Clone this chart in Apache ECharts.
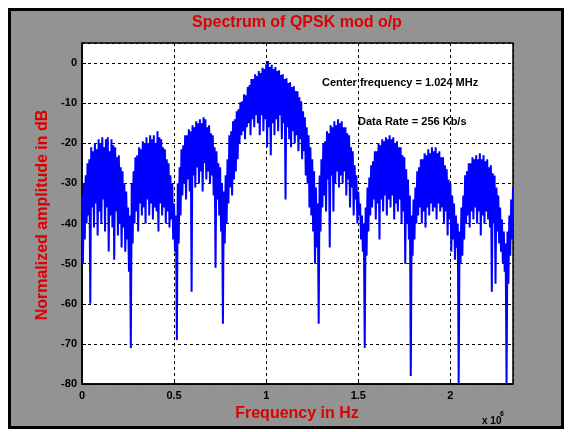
<!DOCTYPE html>
<html>
<head>
<meta charset="utf-8">
<script src="https://cdn.jsdelivr.net/npm/echarts@6/dist/echarts.min.js"></script>
<style>
  html, body { margin: 0; padding: 0; background: #ffffff; }
  #frame { position: absolute; left: 8px; top: 8px; width: 550px; height: 415px; border: 3px solid #000; background: #939393; }
  #chart { position: absolute; left: 0; top: 0; width: 569px; height: 432px; }
</style>
</head>
<body>
<div id="frame"></div>
<div id="chart"></div>
<script>
// Frequency sampling grid (x 10^6 Hz)
const freqStart = 0;
const freqStep = 0.01;

// Upper (peak) amplitude samples in dB
const peakDb = [
  -33,-30,-28,-25,-24,-21,-22,-20,-21.5,-19,-20,-18.5,-21,-19,-18.5,-22,-19,-20.5,-21,-23.5,-23,-26,-27,-30,-32,-36,-38,
  -30,-27,-23.5,-23,-21,-21.5,-19.5,-20,-18.5,-20,-18,-19,-18,-20,-17,-18.5,-19,-21,-21.5,-24,-25,-28,-30,-35,-38,
  -30,-26,-21.5,-20.5,-18,-18,-16.5,-17,-15.5,-16,-14.5,-15,-14,-15,-13.5,-14,-16,-15.5,-17.5,-18,-21,-22,-25,-26,-30,
  -32,-28,-24,-18,-17,-14.5,-14,-12,-11.5,-9.8,
  -9.5,-7.8,-8,-6,-5.5,-4,-4,-2.8,-3.2,-2,
  -2.5,-1.2,-1.5,-0.3,0.5,-1,-0.4,-1.5,-1,-2,
  -1.8,-3,-2.8,-4,-3.8,-5,-4.8,-6,-5.8,-7,
  -7,-8.5,-9.5,-12,-13.5,-16,-18,-21,-24,-27,
  -31,-35,
  -28,-24,-20,-19.5,-17,-17.5,-15.5,-16,-14.5,-15.5,-14,-15,-14.5,-16,-16,-17.5,-18,-21,-22,-25.5,-28,-32,-35,-38,-40,
  -36,-31,-28.5,-25.5,-24.5,-22,-22,-20,-20.5,-19,-19.5,-18.5,-19,-18,-19,-18.5,-20,-19.5,-21,-21,-23,-23.5,-26.5,-29,-33,
  -38,-34,-31,-27,-26,-24,-24,-22.5,-23,-21.5,-22.5,-21,-22,-21,-22.5,-22,-23.5,-23.5,-25.5,-26.5,-29,-30,-33,-35,-38,-40,
  -42,-36,-33,-28,-27,-25,-25,-23.5,-24,-23,-24,-22.5,-24,-23,-24.5,-24,-26,-25.5,-27.5,-28,-31,-33,-36,-39,-42,-45,-42,-38,-34,-31
];

// Lower (trough) amplitude samples in dB
const troughDb = [
  -50,-44,-40,-38,-60,-36,-41,-35,-43,-37,-40,-34,-42,-36,-47,-38,-41,-49,-37,-43,-40,-46,-41,-47,-44,-52,-71,
  -45,-40,-37,-42,-35,-38,-36,-40,-34,-38,-35,-39,-36,-37,-42,-35,-38,-36,-40,-37,-41,-39,-44,-47,-69,
  -45,-38,-33,-30,-34,-29,-32,-57,-28,-31,-26,-30,-27,-32,-25,-29,-27,-30,-28,-33,-51,-34,-38,-42,-65,
  -45,-40,-35,-31,-33,-29,-27,-24,-20,-18,
  -17,-19,-16,-15,-18,-14,-16,-13,-15,-18,
  -13,-17,-14,-21,-16,-23,-15,-18,-14,-17,
  -13,-19,-15,-34,-16,-19,-21,-17,-20,-18,
  -22,-19,-24,-22,-28,-30,-36,-38,-42,-50,
  -46,-65,
  -42,-36,-33,-37,-29,-46,-28,-37,-30,-27,-31,-28,-30,-27,-33,-29,-36,-31,-38,-34,-40,-38,-44,-47,-71,
  -48,-42,-38,-36,-34,-39,-35,-44,-34,-37,-33,-38,-34,-36,-33,-39,-35,-37,-34,-40,-37,-50,-40,-44,-78,
  -48,-44,-40,-38,-36,-40,-37,-41,-36,-38,-35,-37,-36,-39,-35,-37,-36,-40,-37,-43,-39,-47,-44,-49,-46,-80,
  -50,-48,-44,-40,-38,-41,-37,-39,-36,-40,-37,-43,-38,-40,-37,-39,-41,-57,-40,-55,-42,-45,-47,-50,-52,-80,-55,-48,-44,-40
];

const xTicks = [0, 0.5, 1, 1.5, 2];
const yTicks = [-80, -70, -60, -50, -40, -30, -20, -10, 0];

const titleText = 'Spectrum of QPSK mod o/p';
const xName = 'Frequency in Hz';
const yName = 'Normalized amplitude in dB';
const note1 = 'Center frequency = 1.024 MHz';
const note2 = 'Data Rate = 256 Kb/s';

const seriesData = [];
for (let i = 0; i < peakDb.length; i++) {
  const f = freqStart + i * freqStep;
  seriesData.push([f, peakDb[i]]);
  seriesData.push([f + freqStep / 2, troughDb[i]]);
}

const FONT = 'Arial, "Liberation Sans", Helvetica, sans-serif';
const RED = '#dd0000';

const chart = echarts.init(document.getElementById('chart'), null, { renderer: 'canvas' });
chart.setOption({
  animation: false,
  backgroundColor: 'transparent',
  grid: {
    left: 82, top: 43, right: 56, bottom: 48,
    show: true, backgroundColor: '#ffffff', borderColor: '#000', borderWidth: 1.5
  },
  xAxis: {
    type: 'value', min: 0, max: 2.34, interval: 0.5,
    axisLine: { show: true, onZero: false, lineStyle: { color: '#000', width: 1.5 } },
    axisTick: { show: true, inside: true, length: 4, lineStyle: { color: '#000' } },
    axisLabel: {
      showMaxLabel: false, color: '#000', fontSize: 11, fontWeight: 'bold', fontFamily: FONT, margin: 6,
      formatter: v => xTicks.includes(Math.round(v * 100) / 100) ? String(v) : ''
    },
    splitLine: { show: true, lineStyle: { color: '#000', type: [3, 3], width: 1 } }
  },
  yAxis: {
    type: 'value', min: -80, max: 5, interval: 10,
    axisLine: { show: true, onZero: false, lineStyle: { color: '#000', width: 1.5 } },
    axisTick: { show: true, inside: true, length: 4, lineStyle: { color: '#000' } },
    axisLabel: {
      showMaxLabel: false, color: '#000', fontSize: 11, fontWeight: 'bold', fontFamily: FONT, margin: 5,
      formatter: v => yTicks.includes(v) ? String(v) : ''
    },
    splitLine: { show: true, lineStyle: { color: '#000', type: [3, 3], width: 1 } }
  },
  series: [{
    type: 'line',
    data: seriesData,
    showSymbol: false,
    symbol: 'none',
    lineStyle: { color: '#0000ff', width: 2 },
    z: 3
  }],
  graphic: [
    { type: 'text', x: 297, y: 23, style: { text: titleText, fill: RED, font: 'bold 16px ' + FONT, textAlign: 'center', textVerticalAlign: 'middle' } },
    { type: 'text', x: 297, y: 414, style: { text: xName, fill: RED, font: 'bold 16px ' + FONT, textAlign: 'center', textVerticalAlign: 'middle' } },
    { type: 'text', x: 43, y: 215, rotation: Math.PI / 2, style: { text: yName, fill: RED, font: 'bold 16px ' + FONT, textAlign: 'center', textVerticalAlign: 'middle' } },
    { type: 'text', x: 482, y: 421, style: { text: 'x 10', fill: '#000', font: 'bold 10px ' + FONT, textAlign: 'left', textVerticalAlign: 'middle' } },
    { type: 'text', x: 500, y: 414, style: { text: '6', fill: '#000', font: 'bold 7px ' + FONT, textAlign: 'left', textVerticalAlign: 'middle' } },
    { type: 'text', x: 322, y: 83, z: 10, style: { text: note1, fill: '#000', font: 'bold 11px ' + FONT, textAlign: 'left', textVerticalAlign: 'middle' } },
    { type: 'text', x: 358, y: 122, z: 10, style: { text: note2, fill: '#000', font: 'bold 11px ' + FONT, textAlign: 'left', textVerticalAlign: 'middle' } }
  ]
});
</script>
</body>
</html>
